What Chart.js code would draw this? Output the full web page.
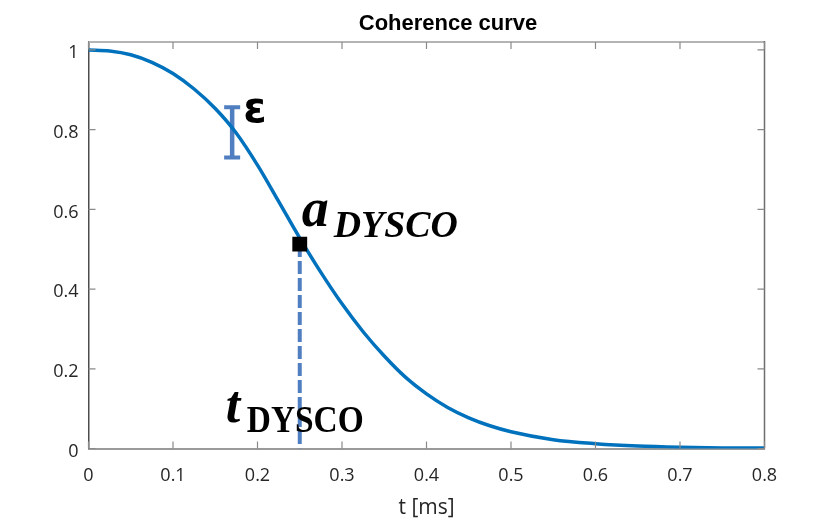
<!DOCTYPE html>
<html>
<head>
<meta charset="utf-8">
<script src="https://cdn.jsdelivr.net/npm/chart.js@4.4.1/dist/chart.umd.min.js"></script>
<style>
body{margin:0;background:#fff;}
#caixa{width:829px;height:526px;}
</style>
</head>
<body>
<div id="caixa"><canvas id="grafCoerencia" width="829" height="526"></canvas></div>
<script>
// curva de coerencia
var tempos    = [0, 0.025, 0.05, 0.075, 0.1, 0.125, 0.15, 0.175, 0.2, 0.225, 0.25, 0.275, 0.3, 0.325, 0.35, 0.375, 0.4, 0.425, 0.45, 0.475, 0.5, 0.55, 0.6, 0.65, 0.7, 0.75, 0.8];
var coerencia = [1, 0.9975, 0.988, 0.969, 0.941, 0.902, 0.853, 0.791, 0.711, 0.62, 0.528, 0.442, 0.363, 0.293, 0.232, 0.179, 0.137, 0.103, 0.077, 0.057, 0.042, 0.022, 0.012, 0.006, 0.003, 0.0015, 0.001];

// ponto a_DYSCO / t_DYSCO
var dyscoT = [0.25];
var dyscoA = [0.513];

// barra de erro epsilon
var erroT   = [0.17];
var erroMin = [0.73];
var erroMax = [0.856];

// ticks
var xTicks = [0, 0.1, 0.2, 0.3, 0.4, 0.5, 0.6, 0.7, 0.8];
var yTicks = [0, 0.2, 0.4, 0.6, 0.8, 1];

var corCurva = '#0072bd';
var corAnotacao = '#4f7fc0';

function pontos(xs, ys) {
    return xs.map(function (v, i) { return {x: v, y: ys[i]}; });
}

/* moldura, ticks para dentro e textos */
var moldura = {
    id: 'moldura',
    beforeDatasetsDraw: function (chart) {
        var ctx = chart.ctx, x = chart.scales.x, y = chart.scales.y;
        var px = x.getPixelForValue(erroT[0]);
        var pTop = y.getPixelForValue(erroMax[0]);
        var pBot = y.getPixelForValue(erroMin[0]);
        ctx.save();
        ctx.strokeStyle = corAnotacao;
        ctx.lineWidth = 4.5;
        ctx.beginPath(); ctx.moveTo(px, pTop); ctx.lineTo(px, pBot); ctx.stroke();
        ctx.lineWidth = 4;
        ctx.beginPath();
        ctx.moveTo(px - 8, pTop); ctx.lineTo(px + 8, pTop);
        ctx.moveTo(px - 8, pBot); ctx.lineTo(px + 8, pBot);
        ctx.stroke();
        ctx.restore();
    },
    afterDraw: function (chart) {
        var ctx = chart.ctx, a = chart.chartArea, x = chart.scales.x, y = chart.scales.y;
        ctx.save();
        // borda de cima e da direita
        ctx.lineWidth = 2;
        ctx.strokeStyle = '#b4b4b4';
        ctx.beginPath(); ctx.moveTo(a.left, a.top); ctx.lineTo(a.right, a.top); ctx.stroke();
        ctx.lineWidth = 1.5;
        ctx.strokeStyle = '#6e6e6e';
        ctx.beginPath(); ctx.moveTo(a.right, a.top - 1); ctx.lineTo(a.right, a.bottom); ctx.stroke();

        // ticks
        ctx.lineWidth = 1.2;
        ctx.strokeStyle = '#8a8a8a';
        xTicks.forEach(function (v) {
            var p = x.getPixelForValue(v);
            ctx.beginPath();
            ctx.moveTo(p, a.bottom); ctx.lineTo(p, a.bottom - 7);
            ctx.moveTo(p, a.top); ctx.lineTo(p, a.top + 7);
            ctx.stroke();
        });
        yTicks.forEach(function (v) {
            var p = y.getPixelForValue(v);
            ctx.beginPath();
            ctx.moveTo(a.left, p); ctx.lineTo(a.left + 7, p);
            ctx.moveTo(a.right, p); ctx.lineTo(a.right - 7, p);
            ctx.stroke();
        });

        // titulo
        ctx.fillStyle = '#000';
        ctx.textAlign = 'center';
        ctx.textBaseline = 'alphabetic';
        ctx.font = 'bold 22px "Liberation Sans", Arial, sans-serif';
        ctx.fillText('Coherence curve', 448, 29.5);

        // textos das anotacoes
        ctx.textAlign = 'left';
        var ex = x.getPixelForValue(erroT[0]);
        var ey = y.getPixelForValue(erroMax[0]);
        ctx.font = 'bold 42px "DejaVu Sans", sans-serif';
        ctx.fillText('\u03b5', ex + 11, ey + 15);

        var mx = x.getPixelForValue(dyscoT[0]);
        var my = y.getPixelForValue(dyscoA[0]);
        ctx.font = 'italic bold 54px "Liberation Serif", serif';
        ctx.fillText('a', mx + 2, my - 18);
        ctx.font = 'italic bold 38px "Liberation Serif", serif';
        ctx.fillText('DYSCO', mx + 34, my - 7.5, 124);

        ctx.font = 'italic bold 52px "Liberation Serif", serif';
        ctx.fillText('t', mx - 74, a.bottom - 27);
        ctx.font = 'bold 37px "Liberation Serif", serif';
        ctx.fillText('DYSCO', mx - 53, a.bottom - 17, 117);
        ctx.restore();
    }
};

var graf = document.getElementById('grafCoerencia').getContext('2d');

var coerenciaChart = new Chart(graf, {
    type: 'line',
    data: {
        datasets: [
            {
                data: pontos(dyscoT, dyscoA),
                showLine: false,
                pointStyle: 'rect',
                pointRadius: 10.5,
                backgroundColor: '#000',
                borderColor: '#000',
                borderWidth: 0
            },
            {
                data: pontos(tempos, coerencia),
                borderColor: corCurva,
                borderWidth: 3.5,
                pointRadius: 0,
                cubicInterpolationMode: 'monotone',
                fill: false
            },
            {
                data: pontos([dyscoT[0], dyscoT[0]], [dyscoA[0], 0]),
                borderColor: corAnotacao,
                borderWidth: 4,
                borderDash: [13, 4],
                pointRadius: 0,
                fill: false
            }
        ]
    },
    options: {
        responsive: false,
        animation: false,
        layout: {padding: {top: 42, right: 64.5, left: 0, bottom: 0}},
        plugins: {legend: {display: false}, tooltip: {enabled: false}},
        scales: {
            x: {
                type: 'linear',
                min: 0,
                max: 0.8,
                afterFit: function (s) { s.height = 77.5; },
                afterBuildTicks: function (s) { s.ticks = xTicks.map(function (v) { return {value: v}; }); },
                grid: {display: false, drawTicks: false},
                border: {display: true, color: '#9a9a9a', width: 2},
                ticks: {
                    padding: 17,
                    color: '#262626',
                    font: {family: '"Open Sans", sans-serif', size: 18},
                    maxRotation: 0,
                    callback: function (v) { return String(v); }
                },
                title: {
                    display: true,
                    text: 't [ms]',
                    color: '#262626',
                    font: {family: '"Open Sans", sans-serif', size: 21},
                    padding: {top: 0, bottom: 5}
                }
            },
            y: {
                min: 0,
                max: 1.02,
                afterFit: function (s) { s.width = 88.5; },
                afterBuildTicks: function (s) { s.ticks = yTicks.map(function (v) { return {value: v}; }); },
                grid: {display: false, drawTicks: false},
                border: {display: true, color: '#4d4d4d', width: 1.5},
                ticks: {
                    padding: 10,
                    labelOffset: 3,
                    color: '#262626',
                    font: {family: '"Open Sans", sans-serif', size: 18},
                    callback: function (v) { return String(v); }
                }
            }
        }
    },
    plugins: [moldura]
});
</script>
</body>
</html>
